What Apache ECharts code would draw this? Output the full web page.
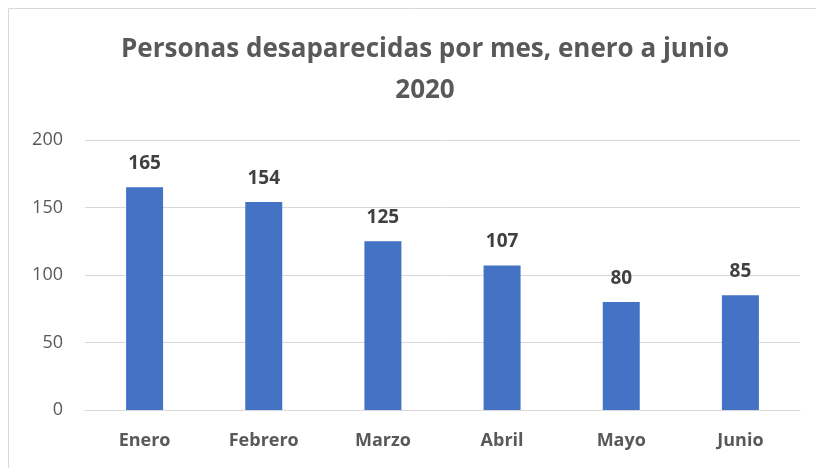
<!DOCTYPE html>
<html>
<head>
<meta charset="utf-8">
<script src="https://cdn.jsdelivr.net/npm/echarts@6/dist/echarts.min.js"></script>
<style>
  html, body { margin: 0; padding: 0; background: #fff; }
  #box { width: 816px; height: 468px; }
</style>
</head>
<body>
<div id="box"></div>
<script>
var meses = ['Enero', 'Febrero', 'Marzo', 'Abril', 'Mayo', 'Junio'];
var personas = [165, 154, 125, 107, 80, 85];
var ejeY = [0, 50, 100, 150, 200];

var myChart = echarts.init(document.getElementById('box'));
var fuente = '"Open Sans", "Noto Sans", sans-serif';

var option = {
    backgroundColor: '#fff',
    animation: false,
    title: {
        text: 'Personas desaparecidas por mes, enero a junio\n2020',
        left: 420,
        textAlign: 'center',
        top: 24,
        textStyle: {
            fontFamily: fuente,
            fontSize: 26,
            fontWeight: 'bold',
            color: '#595959',
            lineHeight: 41
        }
    },
    graphic: [{
        type: 'rect',
        shape: { x: 8.5, y: 8.5, width: 900, height: 600 },
        style: { fill: 'none', stroke: '#d9d9d9', lineWidth: 1 },
        silent: true
    }],
    grid: {
        left: 85,
        right: 16,
        top: 140,
        bottom: 58
    },
    xAxis: {
        type: 'category',
        data: meses,
        axisTick: { show: false },
        axisLine: { lineStyle: { color: '#d9d9d9', width: 1 } },
        axisLabel: {
            fontFamily: fuente,
            fontSize: 18,
            fontWeight: 'bold',
            color: '#595959',
            margin: 22
        }
    },
    yAxis: {
        type: 'value',
        min: ejeY[0],
        max: ejeY[ejeY.length - 1],
        interval: 50,
        axisLine: { show: false },
        axisTick: { show: false },
        splitLine: { lineStyle: { color: '#d9d9d9', width: 1 } },
        axisLabel: {
            fontFamily: fuente,
            fontSize: 18,
            color: '#595959',
            margin: 22
        }
    },
    series: [{
        name: 'Personas',
        type: 'bar',
        data: personas,
        barWidth: 37,
        itemStyle: { color: '#4472c4' },
        label: {
            show: true,
            position: 'top',
            distance: 14,
            fontFamily: fuente,
            fontSize: 19,
            fontWeight: 'bold',
            color: '#404040'
        }
    }]
};
myChart.setOption(option);
</script>
</body>
</html>
